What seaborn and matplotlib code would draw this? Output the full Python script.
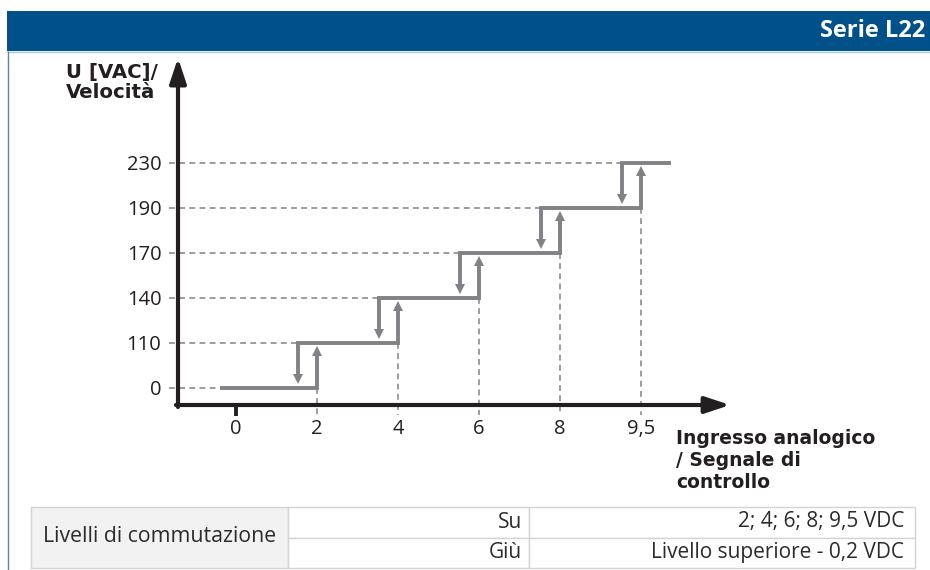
import pandas as pd
import seaborn as sns
import matplotlib.pyplot as plt
from matplotlib.patches import Rectangle

# values
levels = [0, 110, 140, 170, 190, 230]        # U [VAC] / speed steps
x_values = [0, 2, 4, 6, 8, 9.5]              # analog input, VDC (tick positions)
x_labels = ["0", "2", "4", "6", "8", "9,5"]
switch_up = [2, 4, 6, 8, 9.5]                # switch-up thresholds, VDC

title = "Serie L22"
y_title = "U [VAC]/\nVelocità"
x_title = "Ingresso analogico\n/ Segnale di\ncontrollo"
table_head = "Livelli di commutazione"
table_keys = ["Su", "Giù"]
table_vals = ["2; 4; 6; 8; 9,5 VDC", "Livello superiore - 0,2 VDC"]

W, H = 930, 570
GAP = 0.24            # drawn hysteresis gap (schematic)
X_START, X_END = -0.2, 5.37
GUIDE_X0, GUIDE_Y0 = -0.83, -0.6
HEAD = 0.2

STEP = "#808285"
GUIDE = "#8c8c8c"
AXIS = "#231f20"
BLUE = "#00508a"
TXT = "#2b2b2b"

sns.set_theme(style="white")
plt.rcParams["font.family"] = ["Open Sans", "DejaVu Sans"]
plt.rcParams["lines.solid_capstyle"] = "butt"
plt.rcParams["lines.solid_joinstyle"] = "miter"

fig = plt.figure(figsize=(W / 100, H / 100), dpi=100)

# page frame, banner and table (pixel coordinates)
bg = fig.add_axes([0, 0, 1, 1], zorder=0)
bg.set_xlim(0, W)
bg.set_ylim(H, 0)
bg.axis("off")
bg.add_patch(Rectangle((7, 11), W - 7, 40, color=BLUE, lw=0))
bg.plot([7, W], [51.5, 51.5], color="#a9c6de", lw=1)
bg.plot([7.5, 7.5], [51, H], color="#5a86b3", lw=1)
bg.text(925, 31, title, color="white", fontsize=17, fontweight="bold",
        ha="right", va="center")

bg.text(66, 63, y_title, family=["DejaVu Sans"], fontsize=14.2, fontweight="bold",
        color=AXIS, ha="left", va="top", linespacing=1.05)
bg.text(676, 429, x_title, family=["DejaVu Sans"], fontsize=13.5, fontweight="bold",
        color=AXIS, ha="left", va="top", linespacing=1.19)

edge = "#d4d4d4"
bg.add_patch(Rectangle((31, 507), 257, 61, facecolor="#f2f2f2", edgecolor=edge, lw=1))
for r in range(2):
    y0 = 507 + r * 30.5
    bg.add_patch(Rectangle((288, y0), 241, 30.5, facecolor="white", edgecolor=edge, lw=1))
    bg.add_patch(Rectangle((529, y0), 386, 30.5, facecolor="white", edgecolor=edge, lw=1))
    bg.text(522, y0 + 15, table_keys[r], fontsize=15, color=TXT,
            ha="right", va="center")
    bg.text(904, y0 + 15, table_vals[r], fontsize=15, color=TXT,
            ha="right", va="center")
bg.text(159.5, 537, table_head, fontsize=15.3, color=TXT, ha="center", va="center")

# chart
ax = fig.add_axes([178 / W, (H - 405) / H, (730 - 178) / W, (405 - 58) / H], zorder=1)
ax.set_facecolor("none")
ax.set_xlim(-0.716, 6.099)
ax.set_ylim(-0.378, 7.333)
for s in ax.spines.values():
    s.set_visible(False)

xpos = {v: i for i, v in enumerate(x_values)}
up = [xpos[v] for v in switch_up]

rows = []
for k in range(len(levels)):
    x0 = X_START if k == 0 else up[k - 1] - GAP
    x1 = X_END if k == len(levels) - 1 else up[k]
    pts = []
    if k > 0:
        pts.append((x0, k - 1 + HEAD))
    pts += [(x0, k), (x1, k)]
    if k < len(levels) - 1:
        pts.append((x1, k + 1 - HEAD))
    rows += [{"seg": k, "x": px, "y": py} for px, py in pts]

    # dashed guide to the y axis
    ax.plot([GUIDE_X0, x0], [k, k], color=GUIDE, lw=1.2, ls=(0, (3.5, 2.6)),
            clip_on=False, zorder=1)
steps = pd.DataFrame(rows)

for k, u in enumerate(up, start=1):
    ax.plot([u, u], [k - 1, GUIDE_Y0], color=GUIDE, lw=1.2, ls=(0, (3.5, 2.6)),
            clip_on=False, zorder=1)

sns.lineplot(data=steps, x="x", y="y", units="seg", estimator=None, sort=False,
             color=STEP, lw=2.8, ax=ax, legend=False, zorder=3)

ax.plot(up, [k - 0.17 for k in range(1, len(levels))], ls="none", marker="^",
        ms=7.5, color=STEP, mew=0, zorder=4)
ax.plot([u - GAP for u in up], [k - 1 + 0.19 for k in range(1, len(levels))],
        ls="none", marker="v", ms=7.5, color=STEP, mew=0, zorder=4)

# axes with arrow heads
arrow = dict(arrowstyle="-|>,head_length=15,head_width=5", lw=3, color=AXIS,
             shrinkA=0, shrinkB=0, mutation_scale=1)
ax.annotate("", xy=(6.1, -0.378), xytext=(-0.741, -0.378), arrowprops=arrow,
            annotation_clip=False, zorder=5)
ax.annotate("", xy=(-0.716, 7.333), xytext=(-0.716, -0.422), arrowprops=arrow,
            annotation_clip=False, zorder=5)
ax.plot([0, 0], [-0.378, -0.62], color=AXIS, lw=2.8, clip_on=False, zorder=5)

ax.set_xticks(range(len(x_labels)), x_labels)
ax.set_yticks(range(len(levels)), [str(v) for v in levels])
ax.tick_params(axis="both", length=0, labelsize=14.5, labelcolor=AXIS)
ax.tick_params(axis="x", pad=10)
ax.tick_params(axis="y", pad=12)
ax.set_xlabel("")
ax.set_ylabel("")
ax.grid(False)

fig.savefig("out.png", dpi=100)
